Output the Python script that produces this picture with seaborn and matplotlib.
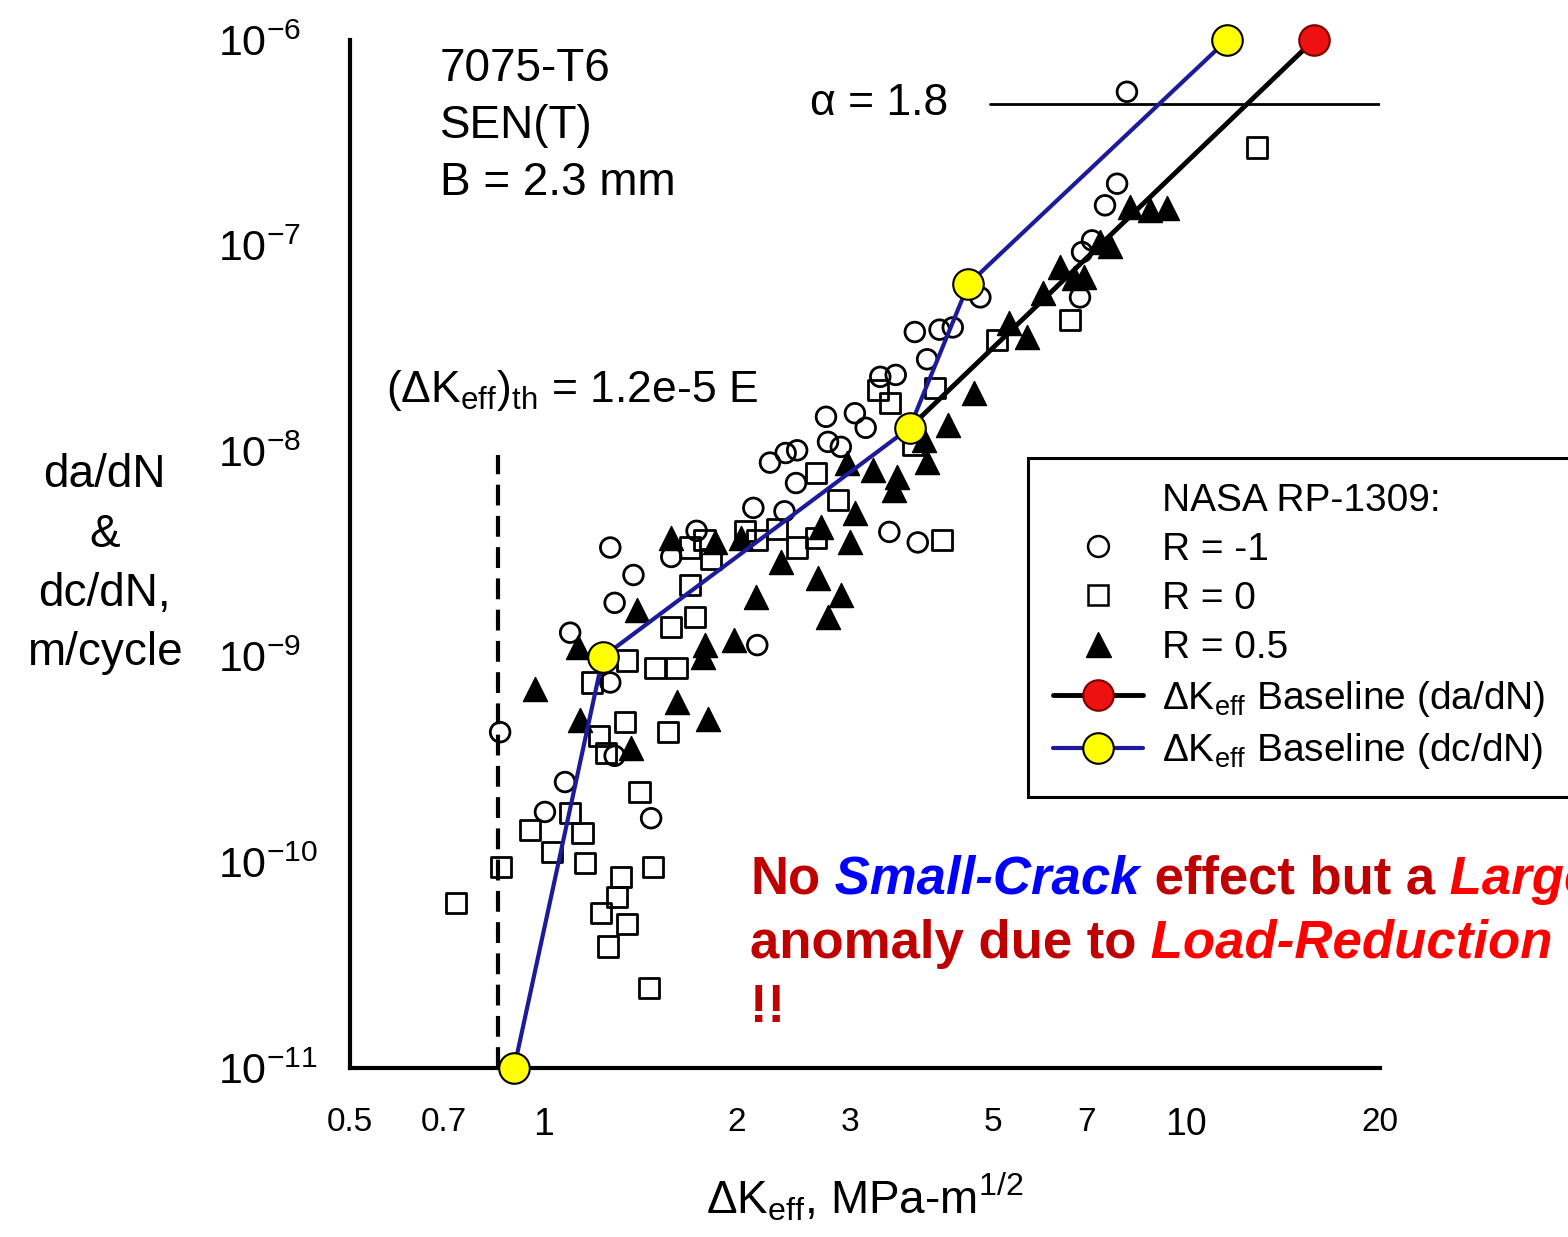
import numpy as np
import matplotlib
matplotlib.use("Agg")
import matplotlib.pyplot as plt
from matplotlib.lines import Line2D
from matplotlib.ticker import NullLocator, LogLocator, NullFormatter
import seaborn as sns

# ---------------- data ----------------
# R = -1 (open circles)
circ_dk = [8.08, 7.80, 7.47, 7.13, 6.88, 6.83, 4.78, 4.33, 4.13, 3.78,
           3.95, 3.34, 3.53, 3.17, 3.05, 2.75, 2.90, 2.77, 2.48, 2.38,
           2.25, 2.47, 2.12, 2.37, 3.45, 3.82, 1.73, 1.58, 1.27, 1.38,
           1.29, 2.15, 1.10, 1.27, 1.29, 1.08, 1.005, 1.47, 0.856]
circ_rate = [5.6e-7, 2.0e-7, 1.57e-7, 1.06e-7, 9.3e-8, 5.6e-8, 5.6e-8, 4.0e-8, 3.9e-8, 3.8e-8,
             2.8e-8, 2.3e-8, 2.35e-8, 1.3e-8, 1.53e-8, 1.47e-8, 1.05e-8, 1.11e-8, 1.01e-8, 9.8e-9,
             8.8e-9, 7.0e-9, 5.3e-9, 5.1e-9, 4.05e-9, 3.6e-9, 4.1e-9, 3.06e-9, 3.4e-9, 2.5e-9,
             1.83e-9, 1.14e-9, 1.31e-9, 7.5e-10, 3.3e-10, 2.46e-10, 1.76e-10, 1.64e-10, 4.3e-10]

# R = 0 (open squares)
sq_dk = [12.87, 6.59, 5.08, 3.31, 3.46, 4.06, 3.75, 2.65, 2.87, 4.17,
         2.06, 2.31, 2.48, 2.65, 1.82, 1.69, 1.69, 1.72, 1.58, 1.35,
         1.49, 1.61, 1.19, 1.34, 1.56, 1.22, 1.25, 1.41, 1.10, 0.953,
         1.15, 1.03, 1.16, 0.859, 1.48, 1.32, 1.30, 0.731, 1.23, 1.35,
         1.26, 1.46, 1.78, 2.15]
sq_rate = [3.0e-7, 4.35e-8, 3.47e-8, 1.98e-8, 1.71e-8, 2.03e-8, 1.07e-8, 7.8e-9, 5.8e-9, 3.7e-9,
           4.1e-9, 4.2e-9, 3.4e-9, 3.8e-9, 3.0e-9, 3.4e-9, 2.23e-9, 1.56e-9, 1.40e-9, 9.6e-10,
           8.8e-10, 8.8e-10, 7.5e-10, 4.8e-10, 4.3e-10, 4.1e-10, 3.4e-10, 2.2e-10, 1.74e-10, 1.44e-10,
           1.39e-10, 1.12e-10, 9.9e-11, 9.5e-11, 9.5e-11, 8.5e-11, 6.8e-11, 6.35e-11, 5.7e-11, 5.0e-11,
           3.9e-11, 2.45e-11, 3.7e-9, 3.7e-9]

# R = 0.5 (filled triangles)
tri_dk = [8.17, 8.78, 9.33, 7.61, 7.34, 6.36, 6.93, 6.69, 5.99, 5.30,
          5.65, 4.68, 4.25, 3.95, 3.91, 3.55, 3.51, 3.25, 2.97, 3.05,
          3.00, 2.70, 2.67, 2.90, 2.77, 2.34, 2.14, 1.98, 1.77, 1.78,
          1.80, 1.61, 1.40, 1.58, 1.13, 0.97, 1.14, 1.37, 1.85, 2.03]
tri_rate = [1.54e-7, 1.49e-7, 1.52e-7, 9.9e-8, 1.04e-7, 7.9e-8, 7.0e-8, 6.95e-8, 5.9e-8, 4.2e-8,
            3.6e-8, 1.92e-8, 1.34e-8, 8.9e-9, 1.13e-8, 7.5e-9, 6.5e-9, 8.1e-9, 8.8e-9, 5.0e-9,
            3.6e-9, 4.3e-9, 2.42e-9, 2.0e-9, 1.56e-9, 2.9e-9, 1.95e-9, 1.21e-9, 1.0e-9, 1.14e-9,
            5.0e-10, 6.0e-10, 1.69e-9, 3.8e-9, 1.12e-9, 7.0e-10, 4.9e-10, 3.6e-10, 3.6e-9, 3.8e-9]

# baselines
da_dk = [3.71, 15.78]
da_rate = [1.30e-8, 1.0e-6]
dc_dk = [0.90, 1.237, 3.71, 4.58, 11.56]
dc_rate = [1.0e-11, 1.0e-9, 1.30e-8, 6.5e-8, 1.0e-6]

# threshold and alpha lines
th_dk = 0.85
th_rate = [1.0e-11, 9.6e-9]
alpha_dk = [4.95, 20]
alpha_rate = 4.9e-7

xticks = [0.5, 0.7, 1, 2, 3, 5, 7, 10, 20]
xticklabels = ["0.5", "0.7", "1", "2", "3", "5", "7", "10", "20"]
yticks = [1e-11, 1e-10, 1e-9, 1e-8, 1e-7, 1e-6]
yticklabels = [r"$\mathregular{10^{-11}}$", r"$\mathregular{10^{-10}}$", r"$\mathregular{10^{-9}}$",
               r"$\mathregular{10^{-8}}$", r"$\mathregular{10^{-7}}$", r"$\mathregular{10^{-6}}$"]

# ---------------- style ----------------
sns.set_style("white")
plt.rcParams['font.family'] = ['Liberation Sans', 'DejaVu Sans']
plt.rcParams['mathtext.fontset'] = 'custom'
plt.rcParams['mathtext.rm'] = 'Liberation Sans'
plt.rcParams['mathtext.it'] = 'Liberation Sans:italic'
plt.rcParams['mathtext.bf'] = 'Liberation Sans:bold'
for key in ['text.color', 'axes.labelcolor', 'xtick.color', 'ytick.color']:
    plt.rcParams[key] = 'black'

blue = '#1c1c9a'
dred = '#c00000'

fig = plt.figure(figsize=(15.68, 12.37), dpi=100)
ax = fig.add_axes([350/1568, 1 - 1068/1237, 1030/1568, 1028/1237])
ax.set_xscale('log')
ax.set_yscale('log')

sns.scatterplot(x=circ_dk, y=circ_rate, ax=ax, marker='o', s=200, color='none',
                edgecolor='black', linewidth=2.0, zorder=3)
sns.scatterplot(x=sq_dk, y=sq_rate, ax=ax, marker='s', s=210, color='none',
                edgecolor='black', linewidth=2.0, zorder=3)
sns.scatterplot(x=tri_dk, y=tri_rate, ax=ax, marker='^', s=300, color='black',
                edgecolor='black', linewidth=1, zorder=3)

ax.plot(da_dk, da_rate, color='black', lw=3.5, marker='o', markersize=22,
        markerfacecolor='#ee1111', markeredgecolor='#7a0000', markeredgewidth=1.5,
        markevery=[1], zorder=5, clip_on=False)
ax.plot(dc_dk, dc_rate, color=blue, lw=3, marker='o', markersize=22,
        markerfacecolor='#ffff00', markeredgecolor='black', markeredgewidth=1.5,
        zorder=6, clip_on=False)

ax.plot([th_dk, th_dk], th_rate, color='black', lw=3, dashes=(5, 2.5), zorder=2)
ax.plot(alpha_dk, [alpha_rate, alpha_rate], color='black', lw=2, zorder=2)

ax.set_xlim(0.5, 20)
ax.set_ylim(1e-11, 1e-6)

sns.despine(ax=ax)
for side in ['left', 'bottom']:
    ax.spines[side].set_linewidth(3)
    ax.spines[side].set_color('black')

ax.set_xticks(xticks, labels=xticklabels)
ax.xaxis.set_minor_locator(NullLocator())
for lab, txt in zip(ax.get_xticklabels(), xticklabels):
    lab.set_fontsize(27 if txt in ('1', '10') else 24)
ax.set_yticks(yticks, labels=yticklabels, fontsize=31)
ax.yaxis.set_minor_locator(LogLocator(base=10, subs=np.arange(2, 10)))
ax.yaxis.set_minor_formatter(NullFormatter())
plt.setp(ax.get_yticklabels(), ha='left')

ax.tick_params(axis='x', which='major', direction='in', length=11, width=2, pad=28)
ax.tick_params(axis='y', which='major', direction='in', length=22, width=2.5, pad=95)
ax.tick_params(axis='y', which='minor', direction='in', length=16, width=2.5)

ax.set_xlabel(r"$\mathregular{\Delta K_{eff}}$, MPa-m$^{\mathregular{1/2}}$", fontsize=33)
ax.xaxis.set_label_coords(0.5, -0.1)
ax.xaxis.label.set_va('top')
ax.set_ylabel("da/dN\n&\ndc/dN,\nm/cycle", fontsize=33, rotation=0,
              ha='center', va='center', multialignment='center', linespacing=1.45)
ax.yaxis.set_label_coords(-0.238, 0.49)

# annotations
ax.text(0.087, 0.993, "7075-T6\nSEN(T)\nB = 2.3 mm", transform=ax.transAxes,
        fontsize=33, va='top', ha='left', linespacing=1.38)
ax.text(2.6, alpha_rate, "α = 1.8", fontsize=32, va='center', ha='left')
ax.text(0.569, 1.98e-8, r"($\mathregular{\Delta K_{eff}}$)$\mathregular{_{th}}$ = 1.2e-5 E",
        fontsize=32, va='center', ha='left')

# legend
handles = [
    Line2D([], [], ls='none', marker=None),
    Line2D([], [], ls='none', marker='o', ms=15, mfc='none', mec='black', mew=1.8),
    Line2D([], [], ls='none', marker='s', ms=14, mfc='none', mec='black', mew=1.8),
    Line2D([], [], ls='none', marker='^', ms=18, mfc='black', mec='black'),
    Line2D([], [], color='black', lw=3.5, marker='o', ms=22, mfc='#ee1111', mec='#7a0000', mew=1.5),
    Line2D([], [], color=blue, lw=3, marker='o', ms=22, mfc='#ffff00', mec='black', mew=1.5),
]
labels = ["NASA RP-1309:", "R = -1", "R = 0", "R = 0.5",
          r"$\mathregular{\Delta K_{eff}}$ Baseline (da/dN)",
          r"$\mathregular{\Delta K_{eff}}$ Baseline (dc/dN)"]
leg = ax.legend(handles, labels, loc='upper left', bbox_to_anchor=(1028/1568, 1 - 458/1237),
                bbox_transform=fig.transFigure, borderaxespad=0, frameon=True, fancybox=False,
                edgecolor='black', framealpha=1, fontsize=28, handlelength=2.3,
                handletextpad=0.5, labelspacing=0.33, borderpad=0.65)
leg.get_frame().set_linewidth(2.2)

# multi-coloured note
fs = 38
t = fig.text(750/1568, 1 - 905/1237, "No", color=dred, fontsize=fs, weight='bold', va='bottom')
t = ax.annotate(" Small-Crack", xycoords=t, xy=(1, 0), va='bottom', color='#0000ff',
                fontsize=fs, weight='bold', style='italic', annotation_clip=False)
t = ax.annotate(" effect but a", xycoords=t, xy=(1, 0), va='bottom', color=dred,
                fontsize=fs, weight='bold', annotation_clip=False)
t = ax.annotate(" Large", xycoords=t, xy=(1, 0), va='bottom', color='#ff0000',
                fontsize=fs, weight='bold', style='italic', annotation_clip=False)
t2 = fig.text(750/1568, 1 - 969/1237, "anomaly due to", color=dred, fontsize=fs, weight='bold', va='bottom')
t2 = ax.annotate(" Load-Reduction", xycoords=t2, xy=(1, 0), va='bottom', color='#ff0000',
                 fontsize=fs, weight='bold', style='italic', annotation_clip=False)
fig.text(750/1568, 1 - 1033/1237, "!!", color=dred, fontsize=fs, weight='bold', va='bottom')

fig.savefig("out.png", dpi=100)
